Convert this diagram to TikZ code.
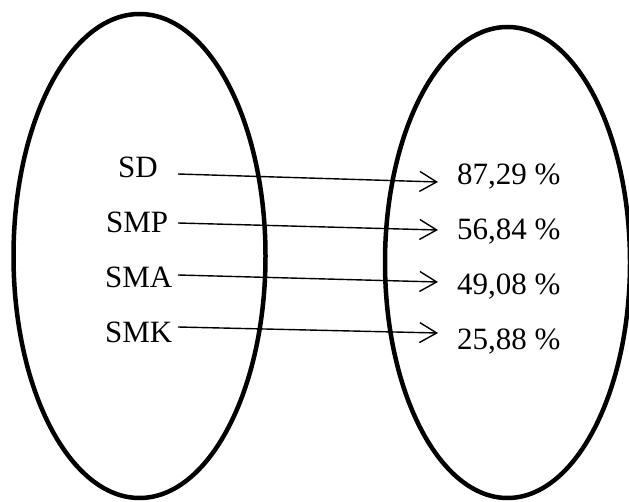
\documentclass[tikz,border=0pt]{standalone}
\usepackage{fontspec}
\setmainfont{Liberation Serif}
\usetikzlibrary{arrows.meta}
\begin{document}
\begin{tikzpicture}[x=1pt,y=-1pt,
  ell/.style={line width=4.5pt},
  lbl/.style={inner sep=0pt,anchor=base west,font=\fontsize{31}{37}\selectfont},
  arr/.style={line width=1.4pt,-{Straight Barb[length=17pt,width=20pt,line width=1.4pt]}}]
\useasboundingbox (0,0) rectangle (629,502);
\draw[ell] (139.5,256) ellipse [x radius=126, y radius=242];
\draw[ell] (507.5,262.5) ellipse [x radius=122.5, y radius=235.5];
\node[lbl] (sd)  at (118,178) {SD};
\node[lbl] (smp) at (106,233) {SMP};
\node[lbl] (sma) at (105,288) {SMA};
\node[lbl] (smk) at (105,343) {SMK};
\node[lbl] (p1) at (457,185) {87,29 \%};
\node[lbl] (p2) at (457,240) {56,84 \%};
\node[lbl] (p3) at (457,295) {49,08 \%};
\node[lbl] (p4) at (457,350) {25,88 \%};
\coordinate (s1) at (178,174); \coordinate (e1) at (438,182);
\coordinate (s2) at (178,223); \coordinate (e2) at (438,230);
\coordinate (s3) at (178,275); \coordinate (e3) at (438,282);
\coordinate (s4) at (178,327); \coordinate (e4) at (438,333);
\draw[arr] (s1) -- (e1);
\draw[arr] (s2) -- (e2);
\draw[arr] (s3) -- (e3);
\draw[arr] (s4) -- (e4);
\end{tikzpicture}
\end{document}
